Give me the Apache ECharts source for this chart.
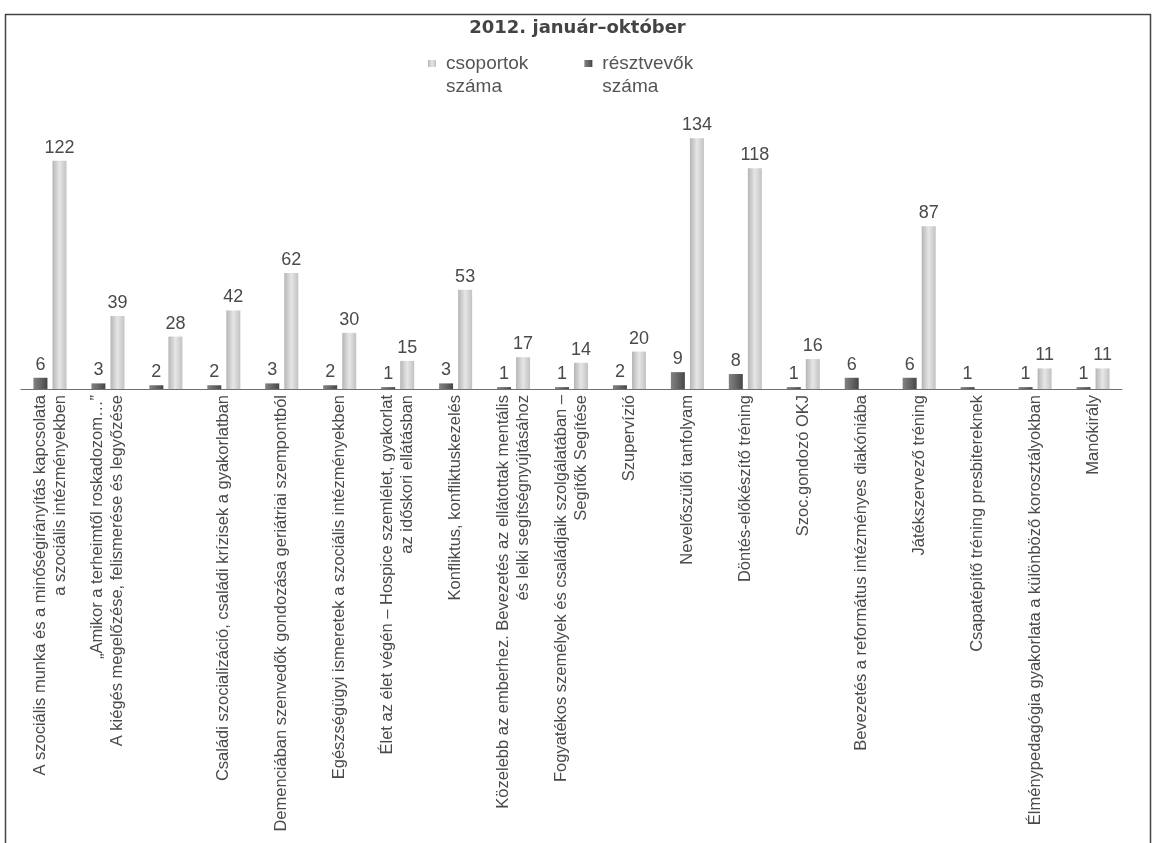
<!DOCTYPE html>
<html>
<head>
<meta charset="utf-8">
<script src="https://cdn.jsdelivr.net/npm/echarts@6/dist/echarts.min.js"></script>
<style>
  html, body { margin: 0; padding: 0; background: #ffffff; }
  #chart { width: 1155px; height: 843px; }
</style>
</head>
<body>
<div id="chart"></div>
<script>
// ---- data ----
var titleText = '2012. január–október';
var categories = [
  'A szociális munka és a minőségirányítás kapcsolata\na szociális intézményekben',
  '„Amikor a terheimtől roskadozom…”\nA kiégés megelőzése, felismerése és legyőzése',
  '',
  'Családi szocializáció, családi krízisek a gyakorlatban',
  'Demenciában szenvedők gondozása geriátriai szempontból',
  'Egészségügyi ismeretek a szociális intézményekben',
  'Élet az élet végén – Hospice szemlélet, gyakorlat\naz időskori ellátásban',
  'Konfliktus, konfliktuskezelés',
  'Közelebb az emberhez. Bevezetés az ellátottak mentális\nés lelki segítségnyújtásához',
  'Fogyatékos személyek és családjaik szolgálatában –\nSegítők Segítése',
  'Szupervízió',
  'Nevelőszülői tanfolyam',
  'Döntés-előkészítő tréning',
  'Szoc.gondozó OKJ',
  'Bevezetés a református intézményes diakóniába',
  'Játékszervező tréning',
  'Csapatépítő tréning presbitereknek',
  'Élménypedagógia gyakorlata a különböző korosztályokban',
  'Manókirály'
];
var seriesNames = ['csoportok\nszáma', 'résztvevők\nszáma'];
var darkValues  = [6, 3, 2, 2, 3, 2, 1, 3, 1, 1, 2, 9, 8, 1, 6, 6, 1, 1, 1];          // résztvevők száma
var lightValues = [122, 39, 28, 42, 62, 30, 15, 53, 17, 14, 20, 134, 118, 16, null, 87, null, 11, 11]; // csoportok száma

// ---- styles ----
var lightGrad = new echarts.graphic.LinearGradient(0, 0, 1, 0, [
  { offset: 0, color: '#b5b5b5' },
  { offset: 0.5, color: '#e6e6e6' },
  { offset: 1, color: '#c2c2c2' }
]);
var darkGrad = new echarts.graphic.LinearGradient(0, 0, 1, 0, [
  { offset: 0, color: '#828282' },
  { offset: 0.45, color: '#6a6a6a' },
  { offset: 1, color: '#464646' }
]);
var labelStyle = {
  show: true,
  position: 'top',
  distance: 4,
  fontFamily: 'Liberation Sans, Arial, sans-serif',
  fontSize: 18,
  color: '#4a4a4a'
};
var legendIcon = 'path://M0,0L8,0L8,7L0,7Z M0,30L8,30Z';

var chart = echarts.init(document.getElementById('chart'), null, { renderer: 'canvas' });
chart.setOption({
  backgroundColor: '#ffffff',
  animation: false,
  title: {
    text: titleText,
    left: 'center',
    top: 14,
    textStyle: {
      fontFamily: 'DejaVu Sans, sans-serif',
      fontWeight: 'bold',
      fontSize: 18,
      color: '#444444'
    }
  },
  legend: {
    left: 423,
    top: 47,
    itemWidth: 8,
    itemHeight: 30,
    itemGap: 56,
    data: [
      { name: seriesNames[0], icon: legendIcon },
      { name: seriesNames[1], icon: legendIcon }
    ],
    textStyle: {
      fontFamily: 'Liberation Sans, Arial, sans-serif',
      fontSize: 19,
      lineHeight: 23,
      color: '#555555',
      padding: [0, 0, 0, 5]
    }
  },
  graphic: [{
    type: 'rect',
    z: -10,
    shape: { x: 5.5, y: 14.5, width: 1145, height: 840 },
    style: { fill: 'none', stroke: '#444444', lineWidth: 1.5 }
  }],
  grid: {
    left: 21,
    right: 33,
    top: 127,
    bottom: 454,
    containLabel: false,
    outerBoundsMode: 'none'
  },
  xAxis: {
    type: 'category',
    data: categories,
    axisLine: { show: true, lineStyle: { color: '#707070', width: 1 } },
    axisTick: { show: false },
    splitLine: { show: false },
    axisLabel: {
      interval: 0,
      rotate: 90,
      margin: 6,
      fontFamily: 'Liberation Sans, Arial, sans-serif',
      fontSize: 16.5,
      lineHeight: 20,
      color: '#4a4a4a'
    }
  },
  yAxis: {
    type: 'value',
    min: 0,
    max: 140,
    show: false,
    splitLine: { show: false }
  },
  series: [
    {
      name: seriesNames[1],
      type: 'bar',
      data: darkValues,
      barWidth: 14,
      barGap: '36%',
      itemStyle: { color: darkGrad },
      label: labelStyle
    },
    {
      name: seriesNames[0],
      type: 'bar',
      data: lightValues,
      barWidth: 14,
      itemStyle: { color: lightGrad },
      label: labelStyle
    }
  ]
});
</script>
</body>
</html>
